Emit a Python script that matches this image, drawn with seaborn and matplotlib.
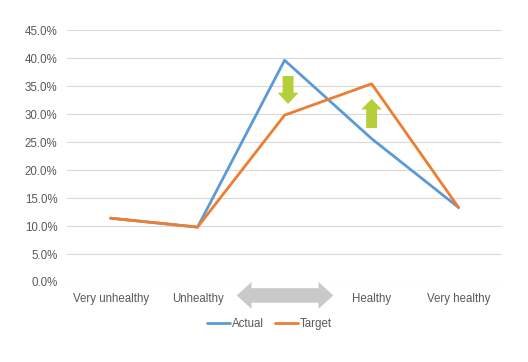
import matplotlib
matplotlib.use('Agg')
import matplotlib.pyplot as plt
from matplotlib.patches import FancyArrow, Polygon
import seaborn as sns
import pandas as pd
import numpy as np

categories = ['Very unhealthy', 'Unhealthy', '', 'Healthy', 'Very healthy']
actual = [11.4, 9.8, 39.6, 25.6, 13.3]
target = [11.4, 9.8, 29.8, 35.4, 13.3]
y_ticks = [0, 5, 10, 15, 20, 25, 30, 35, 40, 45]

rows = []
for name, vals in [('Actual', actual), ('Target', target)]:
    for i, v in enumerate(vals):
        rows.append({'pos': i, 'value': v, 'Series': name})
df = pd.DataFrame(rows)

sns.set_style('white')
plt.rcParams['font.family'] = ['Liberation Sans', 'DejaVu Sans']

fig = plt.figure(figsize=(5.28, 3.62), dpi=100)
ax = fig.add_axes([0.127, 0.221, 0.824, 0.696])

sns.lineplot(data=df, x='pos', y='value', hue='Series',
             palette={'Actual': '#5b9bd5', 'Target': '#ed7d31'},
             linewidth=2, ax=ax, legend=True, sort=False)

ax.set_xlim(-0.5, 4.5)
ax.set_ylim(0, 45)
ax.set_yticks(y_ticks)
ax.set_yticklabels([f'{t:.1f}%' for t in y_ticks])
ax.set_xticks(range(len(categories)))
ax.set_xticklabels(categories)
ax.set_xlabel('')
ax.set_ylabel('')
ax.grid(axis='y', color='#d9d9d9', linewidth=0.8)
ax.set_axisbelow(True)
for s in ax.spines.values():
    s.set_visible(False)
ax.tick_params(axis='both', length=0, labelsize=8.3, colors='#595959')
ax.tick_params(axis='y', pad=7)
ax.tick_params(axis='x', pad=8)

# green arrows showing the shift
green = '#b5cf3a'
ax.add_patch(FancyArrow(2.04, 36.8, 0, -5.0, width=0.125, head_width=0.24,
                        head_length=2.0, length_includes_head=True,
                        color=green, lw=0))
ax.add_patch(FancyArrow(3.0, 27.5, 0, 5.2, width=0.125, head_width=0.24,
                        head_length=1.9, length_includes_head=True,
                        color=green, lw=0))

# grey double arrow under the blank category
x0, x1, hl = 1.45, 2.56, 0.17
yt, yb, st, sb = 0.0, -4.8, -1.1, -3.7
ym = (yt + yb) / 2
ax.add_patch(Polygon([(x0, ym), (x0 + hl, yt), (x0 + hl, st), (x1 - hl, st),
                      (x1 - hl, yt), (x1, ym), (x1 - hl, yb), (x1 - hl, sb),
                      (x0 + hl, sb), (x0 + hl, yb)],
                     closed=True, color='#c9c9c9', lw=0, clip_on=False))

handles, labels = ax.get_legend_handles_labels()
ax.legend(handles, labels, loc='upper center', bbox_to_anchor=(0.465, -0.1),
          ncol=2, frameon=False, fontsize=8.3, labelcolor='#595959',
          handlelength=2.0, handletextpad=0.1, columnspacing=1.0)

fig.savefig('out.png', dpi=100)
